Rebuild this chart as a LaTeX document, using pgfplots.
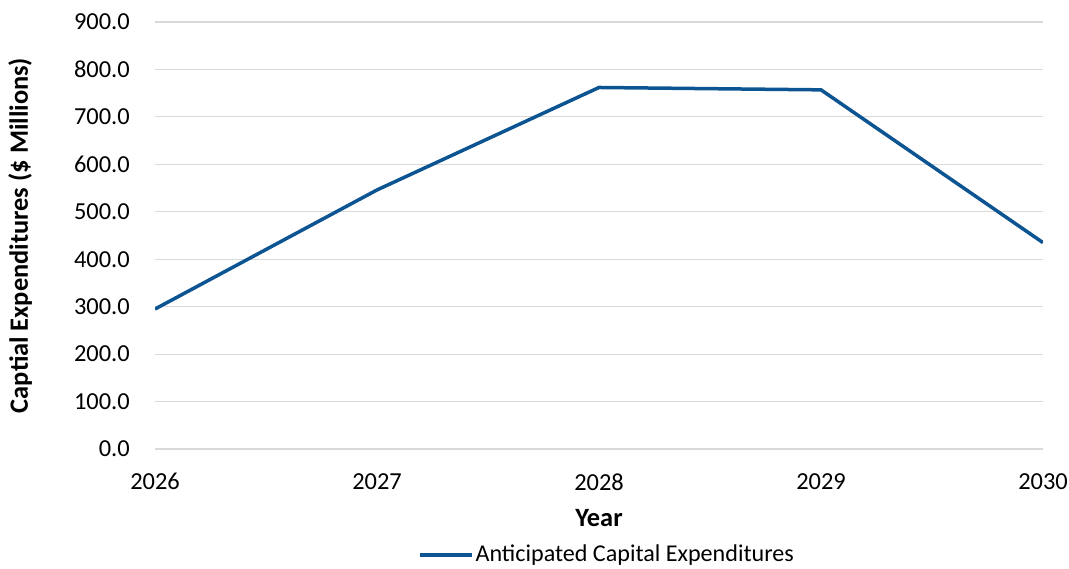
\documentclass[border=0pt]{standalone}
\usepackage{pgfplots}
\pgfplotsset{compat=1.18}
\usepackage{fontspec}
\setmainfont{Carlito}
\definecolor{linecol}{RGB}{12,84,146}
\definecolor{gridcol}{RGB}{217,217,217}
\begin{document}
\fontsize{24.5}{28}\selectfont
\begin{tikzpicture}
\useasboundingbox (0,0) rectangle (1069bp,569bp);
\begin{axis}[
  at={(155bp,120bp)}, anchor=south west,
  scale only axis, width=888bp, height=427bp,
  xmin=2026, xmax=2030, ymin=0, ymax=900,
  xtick={2026,2027,2028,2029,2030},
  ytick={0,100,...,900},
  xticklabel style={/pgf/number format/set thousands separator={}, /pgf/number format/fixed, anchor=north, yshift=-16bp},
  yticklabel style={/pgf/number format/fixed, /pgf/number format/fixed zerofill, /pgf/number format/precision=1, anchor=east, xshift=-17bp},
  /pgf/number format/assume math mode=true,
  ymajorgrids, major grid style={gridcol, line width=1.2pt},
  axis x line*=bottom, axis y line*=left,
  x axis line style={gridcol, line width=1.2pt, -},
  y axis line style={draw=none},
  tick style={draw=none},
  xlabel={\textbf{Year}},
  every axis x label/.style={at={(axis description cs:0.5,-0.162)}, anchor=center, font=\fontsize{26.5}{30}\selectfont},
  ylabel={\textbf{Captial Expenditures (\$ Millions)}},
  every axis y label/.style={at={(axis description cs:-0.152,0.5)}, rotate=90, anchor=center, font=\fontsize{26.5}{30}\selectfont},
  legend style={at={(axis description cs:0.509,-0.248)}, anchor=center, draw=none, legend columns=1, font=\fontsize{24.2}{28}\selectfont},
  legend image code/.code={\draw[#1, line width=3.5bp] (0bp,0bp) -- (52bp,0bp);},
  font=\fontsize{24.5}{28}\selectfont,
]
\addplot[linecol, line width=3.5bp, mark=none] coordinates {
(2026,295) (2027,546) (2028,762) (2029,757) (2030,435)
};
\addlegendentry{Anticipated Capital Expenditures}
\end{axis}
\end{tikzpicture}
\end{document}
